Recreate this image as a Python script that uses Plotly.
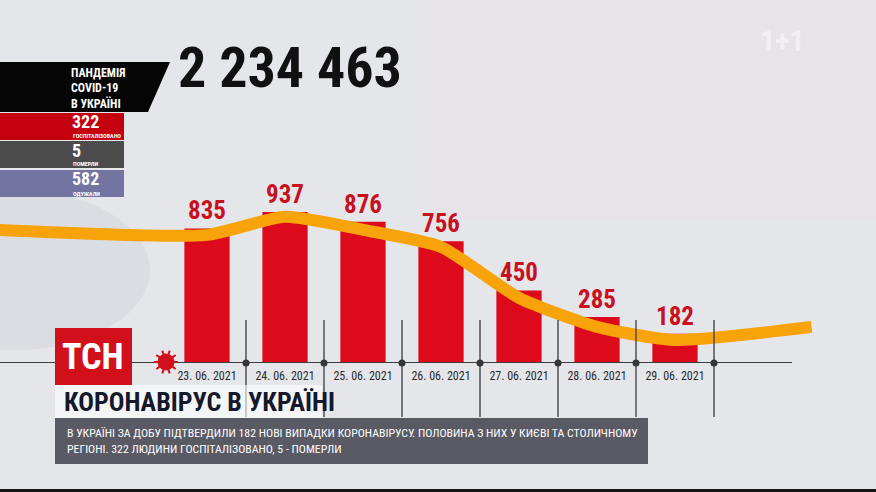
import math

import plotly.graph_objects as go

# ===== data =====
dates = ["23. 06. 2021", "24. 06. 2021", "25. 06. 2021", "26. 06. 2021",
         "27. 06. 2021", "28. 06. 2021", "29. 06. 2021"]
new_cases = [835, 937, 876, 756, 450, 285, 182]

# orange trend line (runs past both ends of the bars)
trend_x = [-2.7, 0, 1, 2, 3, 4, 5, 6, 7.75]
trend_y = [826, 795, 907, 826, 720, 404, 224, 143, 224]

total_cases = "2 234 463"
side_values = ["322", "5", "582"]
side_labels = ["ГОСПІТАЛІЗОВАНО", "ПОМЕРЛИ", "ОДУЖАЛИ"]
title_text = "КОРОНАВІРУС В УКРАЇНІ"
caption_lines = [
    "В УКРАЇНІ ЗА ДОБУ ПІДТВЕРДИЛИ 182 НОВІ ВИПАДКИ КОРОНАВІРУСУ. ПОЛОВИНА З НИХ У КИЄВІ ТА СТОЛИЧНОМУ",
    "РЕГІОНІ. 322 ЛЮДИНИ ГОСПІТАЛІЗОВАНО, 5 - ПОМЕРЛИ",
]

# ===== layout helpers =====
W, H = 876, 492
NARROW = "Liberation Sans Narrow, Roboto Condensed, DejaVu Sans Condensed, Arial Narrow, sans-serif"


def px(x):
    return x / W


def py(y):
    return 1 - y / H


# ===== figure =====
fig = go.Figure()

fig.add_trace(
    go.Bar(
        x=list(range(len(dates))), y=new_cases,
        width=0.58,
        marker=dict(color="#dc0a1b", line=dict(width=0)),
        text=[f"<b>{v}</b>" for v in new_cases],
        textposition="outside",
        textfont=dict(family=NARROW, size=25, color="#c8101e"),
        constraintext="none",
        cliponaxis=False,
        showlegend=False,
    )
)

fig.add_trace(
    go.Scatter(
        x=trend_x, y=trend_y,
        mode="lines",
        line=dict(color="#f8a30a", width=12, shape="spline", smoothing=0.6),
        showlegend=False,
        cliponaxis=False,
    )
)

# dots on the axis line
fig.add_trace(
    go.Scatter(
        x=[i + 0.5 for i in range(len(dates))], y=[0] * len(dates),
        mode="markers",
        marker=dict(color="#333333", size=7),
        showlegend=False,
        cliponaxis=False,
    )
)

shapes = []

# soft background tints
shapes.append(dict(type="rect", xref="paper", yref="paper", x0=px(430), x1=px(876), y0=py(0), y1=py(220),
                   fillcolor="rgba(240,222,226,0.25)", line=dict(width=0), layer="below"))
shapes.append(dict(type="circle", xref="paper", yref="paper", x0=px(-120), x1=px(150), y0=py(190), y1=py(350),
                   fillcolor="rgba(150,155,165,0.12)", line=dict(width=0), layer="below"))

# axis line and dividers
shapes.append(dict(type="line", xref="x", yref="y", x0=-2.7, x1=7.5, y0=0, y1=0,
                   line=dict(color="#3c3c3c", width=2)))
for i in range(len(dates)):
    shapes.append(dict(type="line", xref="x", yref="paper", x0=i + 0.5, x1=i + 0.5,
                       y0=py(320), y1=py(417), line=dict(color="#3c3c3c", width=1.3)))

# left info panel
shapes.append(dict(type="path", xref="paper", yref="paper",
                   path=f"M 0,{py(62)} L {px(170)},{py(62)} L {px(148)},{py(112)} L 0,{py(112)} Z",
                   fillcolor="#050505", line=dict(width=0)))
box_colors = ["#c4000e", "#4b4b4b", "#7474a2"]
box_tops = [113, 141, 170]
for c, t in zip(box_colors, box_tops):
    shapes.append(dict(type="rect", xref="paper", yref="paper", x0=0, x1=px(124), y0=py(t), y1=py(t + 27),
                       fillcolor=c, line=dict(width=0)))

# TSN logo, virus icon, title band, caption box, bottom strip
shapes.append(dict(type="rect", xref="paper", yref="paper", x0=px(55), x1=px(132), y0=py(328), y1=py(385),
                   fillcolor="#d2101c", line=dict(width=0)))
shapes.append(dict(type="rect", xref="paper", yref="paper", x0=px(55), x1=px(322), y0=py(385), y1=py(418),
                   fillcolor="rgba(255,255,255,0.6)", line=dict(width=0)))
shapes.append(dict(type="circle", xref="paper", yref="paper", x0=px(158), x1=px(174), y0=py(354), y1=py(370),
                   fillcolor="#d2101c", line=dict(color="#d2101c", width=1)))
for k in range(10):
    a = 2 * math.pi * k / 10
    shapes.append(dict(type="line", xref="paper", yref="paper",
                       x0=px(166 + 7 * math.cos(a)), x1=px(166 + 12 * math.cos(a)),
                       y0=py(362 + 7 * math.sin(a)), y1=py(362 + 12 * math.sin(a)),
                       line=dict(color="#d2101c", width=2)))
shapes.append(dict(type="rect", xref="paper", yref="paper", x0=px(55), x1=px(648), y0=py(418), y1=py(464),
                   fillcolor="#5a5a65", line=dict(width=0)))
shapes.append(dict(type="rect", xref="paper", yref="paper", x0=0, x1=1, y0=0, y1=py(489),
                   fillcolor="#141414", line=dict(width=0)))

annotations = []


def note(text, x, y, size, color="white", anchor="left", bold=True, family=NARROW):
    annotations.append(dict(
        text=f"<b>{text}</b>" if bold else text,
        xref="paper", yref="paper", x=px(x), y=py(y),
        xanchor=anchor, yanchor="middle", showarrow=False,
        font=dict(family=family, size=size, color=color),
    ))


note(total_cases, 176, 68, 56, color="#111111")
for line_text, y in zip(["ПАНДЕМІЯ", "COVID-19", "В УКРАЇНІ"], [73, 88, 103]):
    note(line_text, 69, y, 12)
for val, lab, t in zip(side_values, side_labels, box_tops):
    note(val, 70, t + 9, 18)
    note(lab, 71, t + 23, 6)
note("ТСН", 93, 357, 36, anchor="center")
note(title_text, 62, 402, 26, color="#15172a")
for line_text, y in zip(caption_lines, [433, 449]):
    note(line_text, 65, y, 11.8, bold=False)
note("1+1", 782, 40, 30, color="rgba(255,255,255,0.45)", anchor="center")

fig.update_layout(
    width=W, height=H,
    margin=dict(l=0, r=0, t=0, b=0),
    paper_bgcolor="#e4e6ea",
    plot_bgcolor="rgba(0,0,0,0)",
    bargap=0.4,
    shapes=shapes,
    annotations=annotations,
    xaxis=dict(
        range=[-207 / 78, (W - 207) / 78],
        tickvals=list(range(len(dates))), ticktext=dates,
        tickfont=dict(family=NARROW, size=12, color="#2a2a2a"),
        ticks="", ticklabelstandoff=4,
        showgrid=False, zeroline=False, showline=False,
    ),
    yaxis=dict(
        domain=[(H - 363) / H, 1],
        range=[0, 363 / 0.1612],
        visible=False,
    ),
)

fig.write_html("out.html", config={"displayModeBar": False},
               post_script="document.body.style.margin='0';")
